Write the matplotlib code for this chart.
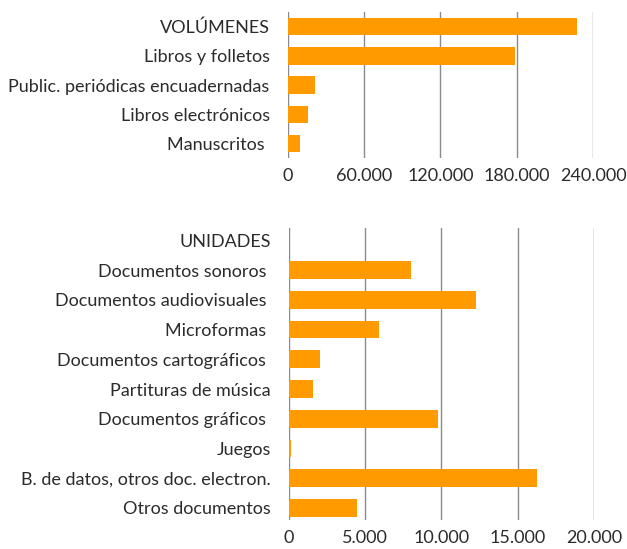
import matplotlib.pyplot as plt

# Datos
cat_vol = ['VOLÚMENES', 'Libros y folletos', 'Public. periódicas encuadernadas',
           'Libros electrónicos', 'Manuscritos ']
val_vol = [227000, 178500, 21500, 16000, 9500]
ticks_vol = [0, 60000, 120000, 180000, 240000]

cat_uni = ['UNIDADES', 'Documentos sonoros ', 'Documentos audiovisuales ', 'Microformas ',
           'Documentos cartográficos ', 'Partituras de música', 'Documentos gráficos ',
           'Juegos', 'B. de datos, otros doc. electron.', 'Otros documentos']
val_uni = [0, 8000, 12250, 5900, 2000, 1600, 9750, 100, 16250, 4480]
ticks_uni = [0, 5000, 10000, 15000, 20000]

naranja = '#FF9A00'
gris_texto = '#2b2b2b'

plt.rcParams['font.family'] = ['Lato', 'DejaVu Sans']

fig = plt.figure(figsize=(6.27, 5.49), dpi=100)
ax1 = fig.add_axes([0.459, 0.712, 0.487, 0.266])
ax2 = fig.add_axes([0.461, 0.052, 0.486, 0.533])


def miles(v):
    return f'{v:,.0f}'.replace(',', '.')


def dibujar(ax, cats, vals, ticks, margen):
    y = list(range(len(cats)))
    ax.barh(y, vals, height=0.6, color=naranja, zorder=3)
    ax.set_yticks(y)
    ax.set_yticklabels(cats)
    ax.set_ylim(len(cats) - 1 + margen, -margen)
    ax.set_xlim(ticks[0], ticks[-1])
    ax.set_xticks(ticks)
    ax.set_xticklabels([miles(t) for t in ticks])
    ax.grid(axis='x', color='#8a8a8a', linewidth=1)
    ax.set_axisbelow(True)
    for s in ax.spines.values():
        s.set_visible(False)
    ax.tick_params(axis='both', length=0, labelsize=13, colors=gris_texto)
    ax.tick_params(axis='y', pad=13)
    ax.tick_params(axis='x', pad=7)


dibujar(ax1, cat_vol, val_vol, ticks_vol, 0.5)
dibujar(ax2, cat_uni, val_uni, ticks_uni, 0.42)

fig.savefig('out.png', dpi=100)
